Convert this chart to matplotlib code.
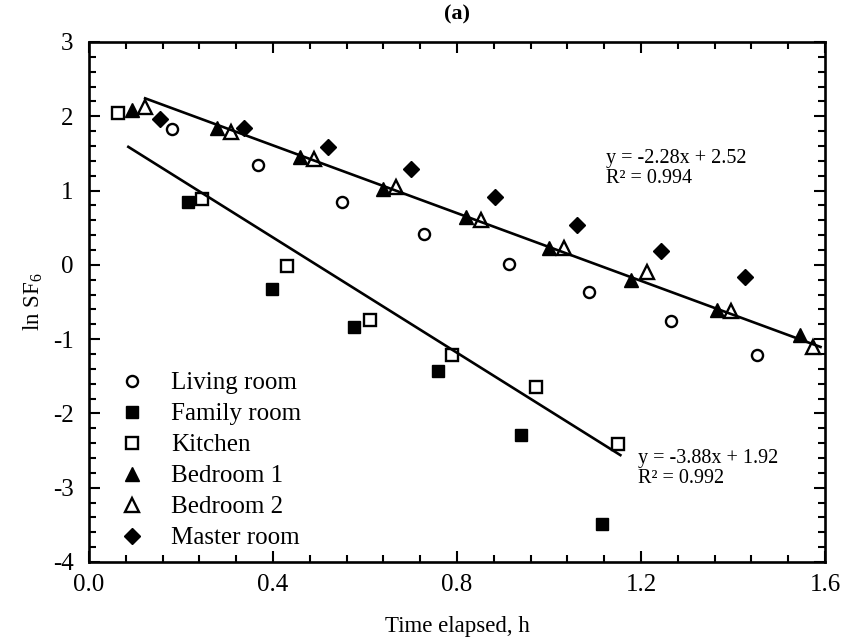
import numpy as np
import matplotlib.pyplot as plt
from matplotlib.ticker import MultipleLocator

plt.rcParams["font.family"] = ["Liberation Serif", "DejaVu Serif"]
plt.rcParams["mathtext.fontset"] = "custom"
plt.rcParams["mathtext.rm"] = "Liberation Serif"
plt.rcParams["axes.unicode_minus"] = False

# -----------------------
# DATOS
# -----------------------
living_x = [0.180, 0.368, 0.549, 0.728, 0.912, 1.087, 1.266, 1.451]
living_y = [1.83, 1.35, 0.85, 0.42, 0.01, -0.36, -0.76, -1.22]

family_x = [0.216, 0.397, 0.577, 0.758, 0.939, 1.116]
family_y = [0.84, -0.33, -0.84, -1.43, -2.29, -3.49]

kitchen_x = [0.064, 0.246, 0.431, 0.611, 0.790, 0.972, 1.149]
kitchen_y = [2.05, 0.89, -0.01, -0.74, -1.22, -1.65, -2.41]

bed1_x = [0.094, 0.278, 0.459, 0.638, 0.820, 0.999, 1.178, 1.364, 1.546]
bed1_y = [2.08, 1.84, 1.45, 1.02, 0.65, 0.22, -0.20, -0.61, -0.94]

bed2_x = [0.122, 0.308, 0.488, 0.667, 0.851, 1.033, 1.212, 1.395, 1.573]
bed2_y = [2.13, 1.79, 1.42, 1.05, 0.61, 0.22, -0.10, -0.62, -1.11]

master_x = [0.154, 0.338, 0.520, 0.700, 0.883, 1.060, 1.243, 1.426]
master_y = [1.97, 1.84, 1.59, 1.29, 0.91, 0.54, 0.19, -0.17]

# ajustes lineales (pendiente, ordenada, rango en x)
fit1 = (-2.28, 2.52, [0.122, 1.59])
fit2 = (-3.88, 1.92, [0.0855, 1.155])

# -----------------------
# GRAFICO
# -----------------------
fig = plt.figure(figsize=(8.5, 6.43), dpi=100)
ax = fig.add_axes([0.1047, 0.126, 0.866, 0.8087])

ax.plot(living_x, living_y, "o", mfc="white", mec="black", mew=1.7, ms=8, label="Living room")
ax.plot(family_x, family_y, "s", mfc="black", mec="black", ms=8.5, label="Family room")
ax.plot(kitchen_x, kitchen_y, "s", mfc="white", mec="black", mew=1.7, ms=8.5, label="Kitchen")
ax.plot(bed1_x, bed1_y, "^", mfc="black", mec="black", ms=10.5, label="Bedroom 1")
ax.plot(bed2_x, bed2_y, "^", mfc="white", mec="black", mew=1.7, ms=10.5, label="Bedroom 2")
ax.plot(master_x, master_y, "D", mfc="black", mec="black", ms=8.5, label="Master room")

for m, b, xr in [fit1, fit2]:
    xs = np.array(xr)
    ax.plot(xs, m * xs + b, color="black", lw=1.9)

ax.text(1.123, 1.30, "y = -2.28x + 2.52\nR² = 0.994", fontsize=14.5, linespacing=1.05, va="center")
ax.text(1.194, -2.74, "y = -3.88x + 1.92\nR² = 0.992", fontsize=14.5, linespacing=1.1, va="center")

ax.set_xlim(0, 1.6)
ax.set_ylim(-4, 3)
ax.xaxis.set_major_locator(MultipleLocator(0.4))
ax.xaxis.set_minor_locator(MultipleLocator(0.08))
ax.yaxis.set_major_locator(MultipleLocator(1))
ax.yaxis.set_minor_locator(MultipleLocator(0.2))
ax.set_xticklabels([f"{v:.1f}" for v in ax.get_xticks()])
ax.tick_params(which="both", direction="in", top=True, right=True, width=1.5, labelsize=18)
ax.tick_params(which="major", length=8)
ax.tick_params(axis="x", which="major", pad=9)
ax.tick_params(axis="y", which="major", pad=11)
ax.tick_params(which="minor", length=5)
for s in ax.spines.values():
    s.set_linewidth(1.9)

ax.set_xlabel("Time elapsed, h", fontsize=16.5, labelpad=14)
ax.set_ylabel(r"ln SF$_\mathregular{6}$", fontsize=16.5, labelpad=6)
ax.set_title("(a)", fontsize=16, fontweight="bold", pad=16)

ax.legend(loc="upper left", bbox_to_anchor=(0.02, 0.385), frameon=False, fontsize=18,
          handletextpad=0.8, labelspacing=0.34, borderaxespad=0, handlelength=1.5)

plt.savefig("out.png", dpi=100)
